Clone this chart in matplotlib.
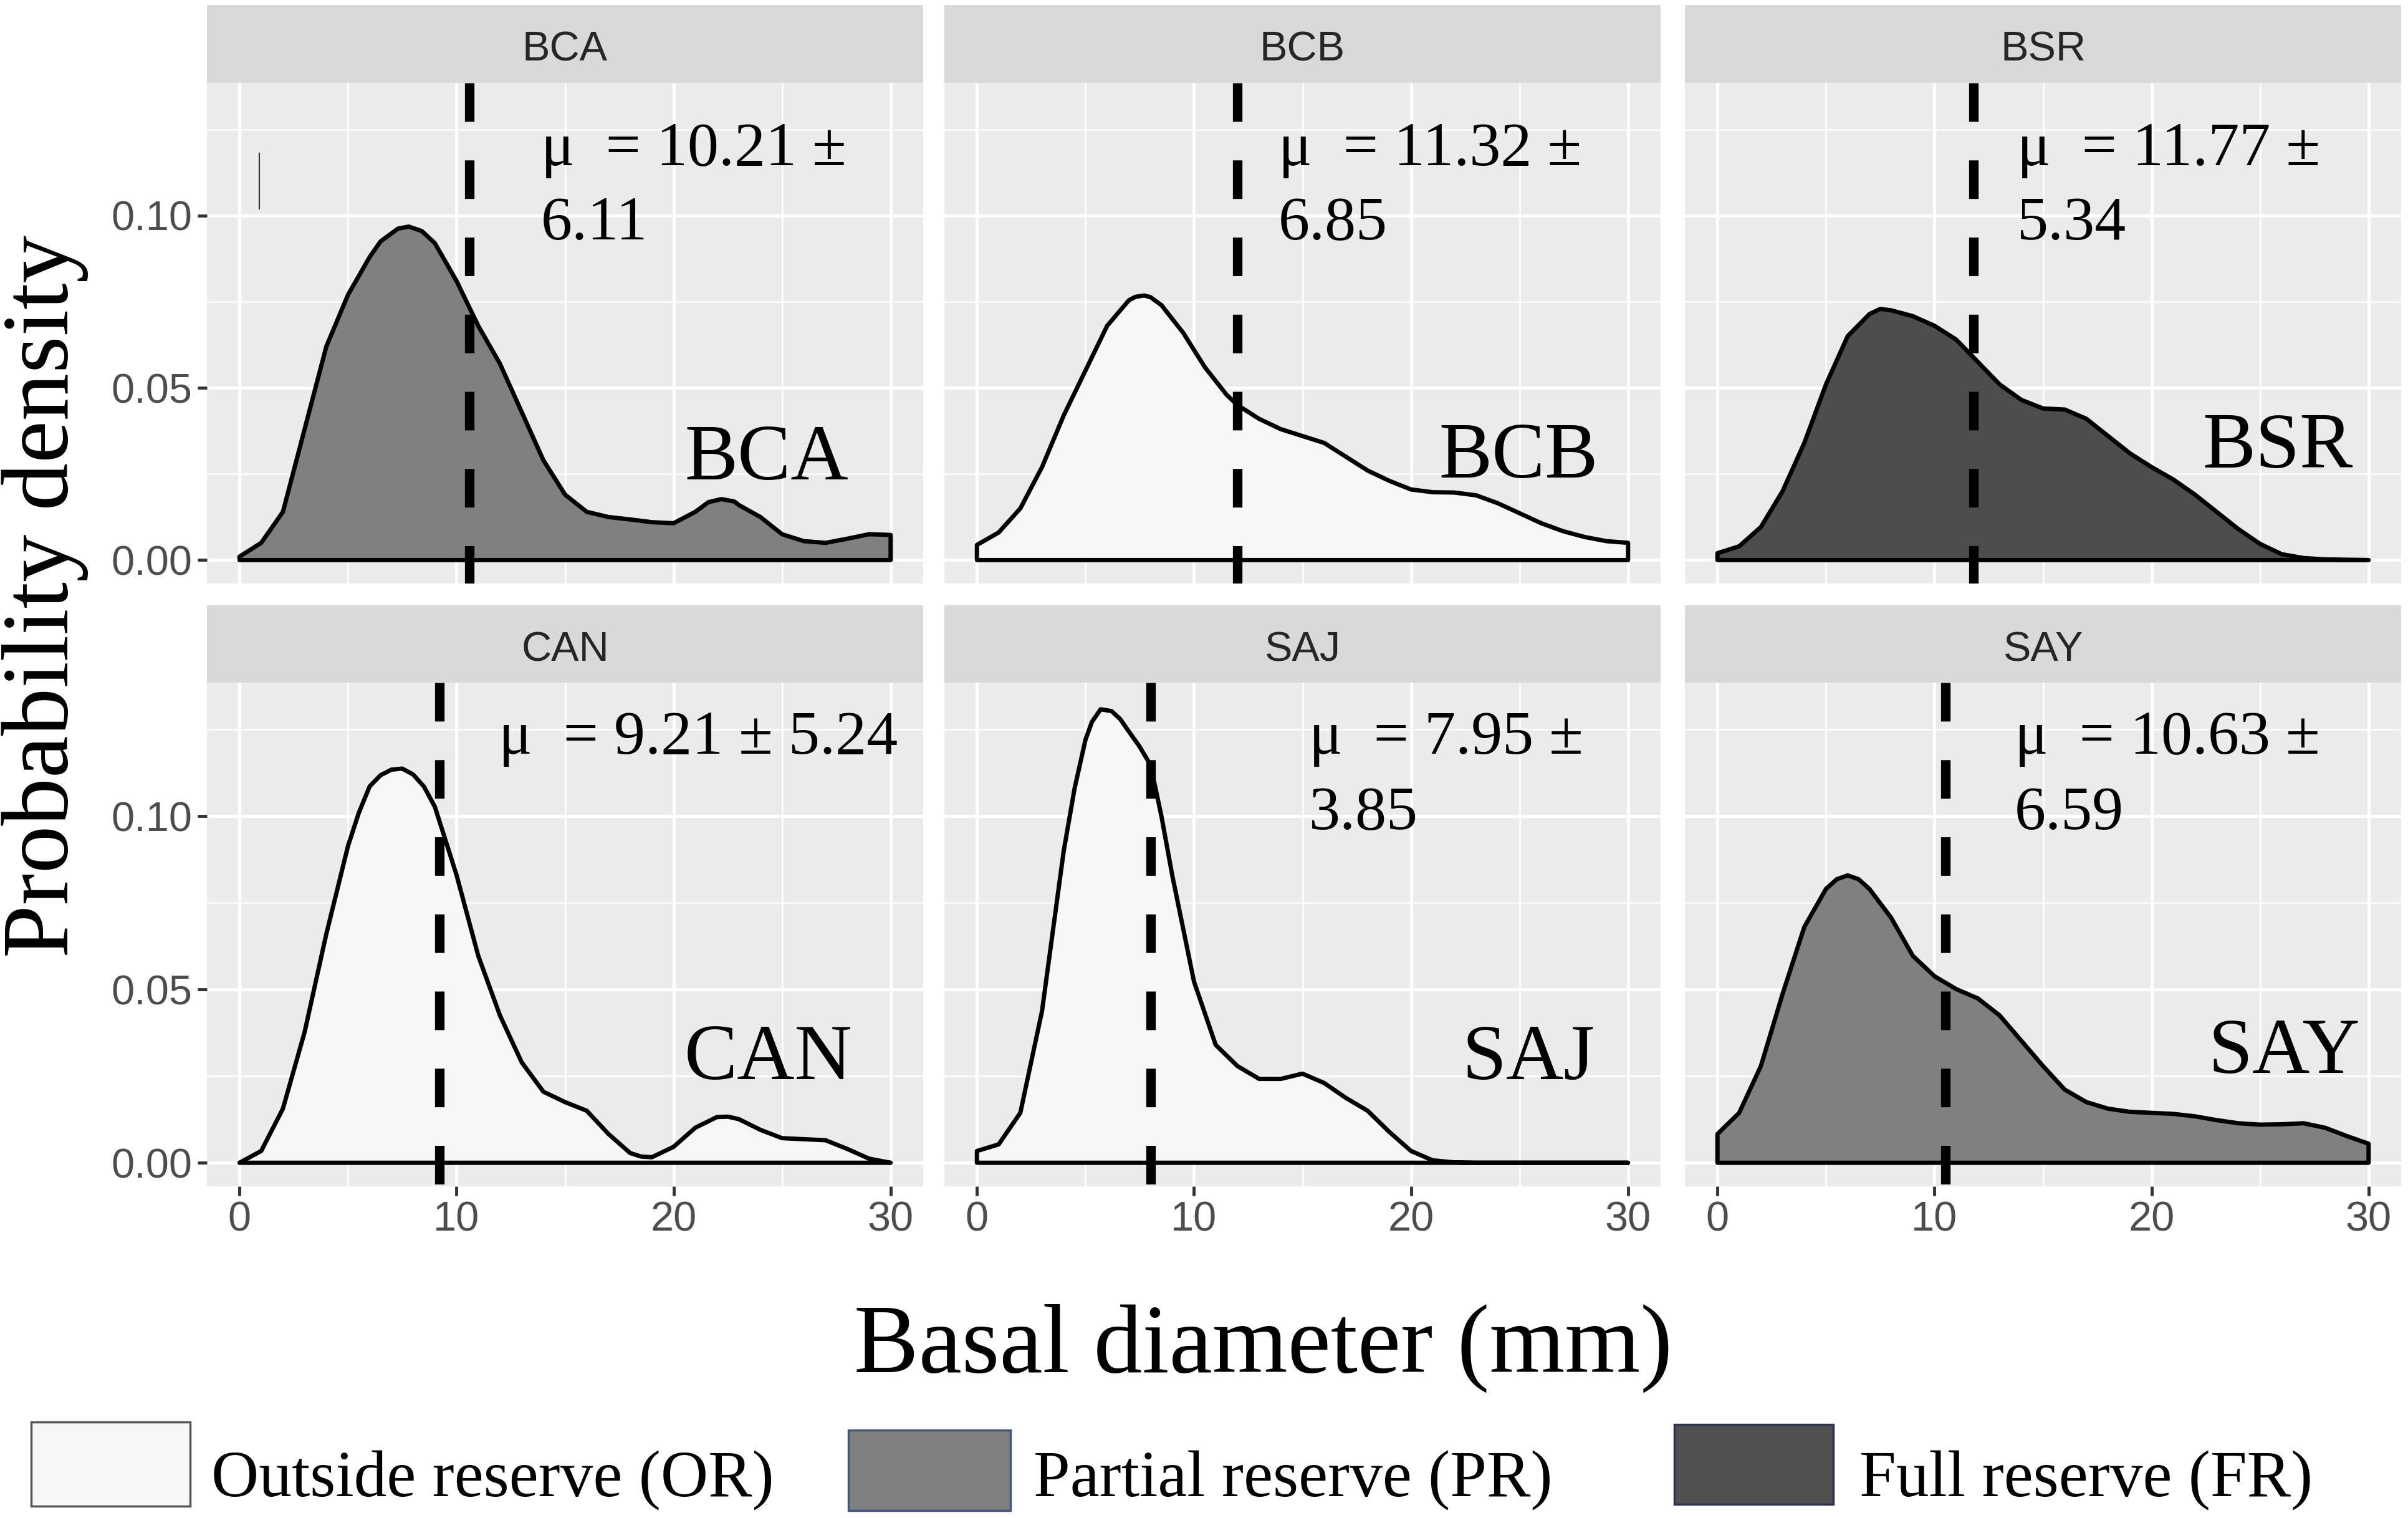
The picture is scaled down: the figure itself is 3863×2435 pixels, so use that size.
import matplotlib
matplotlib.use('Agg')
import matplotlib.pyplot as plt
from matplotlib.patches import Rectangle

# site names and reserve type of each facet
sites = ['BCA', 'BCB', 'BSR', 'CAN', 'SAJ', 'SAY']
reserve = ['PR', 'OR', 'FR', 'OR', 'OR', 'PR']

# density curves (basal diameter in mm, density)
bca_x = [0, 1, 2, 3, 4, 5, 6, 6.5, 7.3, 7.8, 8.4, 9, 10, 11, 12, 13, 14, 15, 16, 17, 18, 19, 20, 21, 21.6, 22.2,
         22.8, 23, 24, 25, 26, 27, 28, 29, 30]
bca_y = [0.001, 0.005, 0.014, 0.038, 0.062, 0.077, 0.088, 0.0925, 0.0962, 0.0968, 0.0955, 0.092, 0.081, 0.068,
         0.057, 0.043, 0.029, 0.019, 0.014, 0.0125, 0.0118, 0.011, 0.0107, 0.014, 0.0168, 0.0177, 0.0170, 0.016,
         0.0125, 0.0075, 0.0055, 0.005, 0.0062, 0.0075, 0.0073]

bcb_x = [0, 1, 2, 3, 4, 5, 6, 7, 7.3, 7.7, 8, 8.5, 9.5, 10.5, 11.5, 12, 13, 14, 15, 16, 17, 18, 19, 20, 21, 22, 23,
         24, 25, 26, 27, 28, 29, 30]
bcb_y = [0.0044, 0.008, 0.015, 0.027, 0.042, 0.055, 0.068, 0.0754, 0.0764, 0.0768, 0.0763, 0.074, 0.066, 0.056,
         0.048, 0.045, 0.041, 0.038, 0.036, 0.034, 0.030, 0.026, 0.023, 0.0205, 0.0197, 0.0196, 0.0188, 0.0165,
         0.0136, 0.0107, 0.0084, 0.0067, 0.0055, 0.005]

bsr_x = [0, 1, 2, 3, 4, 5, 6, 7, 7.5, 8, 9, 10, 11, 12, 13, 14, 15, 16, 17, 18, 19, 20, 21, 22, 23, 24, 25, 26, 27,
         28, 29, 30]
bsr_y = [0.002, 0.004, 0.0096, 0.020, 0.034, 0.051, 0.065, 0.0714, 0.0729, 0.0725, 0.0708, 0.068, 0.064, 0.0575,
         0.051, 0.0465, 0.044, 0.0437, 0.041, 0.036, 0.031, 0.027, 0.0234, 0.019, 0.014, 0.009, 0.0047, 0.0017,
         0.0006, 0.0002, 0.0001, 0.0]

can_x = [0, 1, 2, 3, 4, 5, 5.5, 6, 6.5, 7, 7.5, 8, 8.5, 9, 10, 11, 12, 13, 14, 15, 16, 17, 18, 18.5, 19, 20, 21, 22,
         22.5, 23, 24, 25, 26, 27, 28, 29, 30]
can_y = [0.0, 0.0034, 0.0156, 0.0377, 0.066, 0.0914, 0.1010, 0.1086, 0.1118, 0.1134, 0.1137, 0.112, 0.1085, 0.1027,
         0.083, 0.0597, 0.0425, 0.029, 0.0205, 0.0175, 0.015, 0.0083, 0.0028, 0.0018, 0.0016, 0.0046, 0.0101,
         0.0132, 0.0133, 0.0126, 0.0095, 0.0071, 0.0068, 0.0065, 0.004, 0.0012, 0.0]

saj_x = [0, 1, 2, 3, 4, 4.5, 5, 5.3, 5.7, 6.2, 6.6, 7, 7.5, 8, 8.5, 9, 10, 11, 12, 13, 14, 15, 16, 17, 18, 19, 20,
         21, 22, 23, 24, 25, 26, 27, 28, 29, 30]
saj_y = [0.0034, 0.0053, 0.0144, 0.0438, 0.090, 0.108, 0.122, 0.1272, 0.1308, 0.1303, 0.128, 0.1244, 0.120, 0.1147,
         0.1000, 0.0829, 0.0523, 0.034, 0.0279, 0.0242, 0.0242, 0.0257, 0.023, 0.0187, 0.015, 0.0089, 0.0034,
         0.0007, 0.0001, 0, 0, 0, 0, 0, 0, 0, 0]

say_x = [0, 1, 2, 3, 4, 5, 5.5, 6, 6.5, 7, 8, 9, 10, 11, 12, 13, 14, 15, 16, 17, 18, 19, 20, 21, 22, 23, 24, 25, 26,
         27, 28, 29, 30]
say_y = [0.0083, 0.0144, 0.0279, 0.0487, 0.068, 0.079, 0.0818, 0.0829, 0.0818, 0.079, 0.0707, 0.0597, 0.0538, 0.0501,
         0.0474, 0.0425, 0.0352, 0.0279, 0.0211, 0.0175, 0.0156, 0.0147, 0.0144, 0.0141, 0.0134, 0.0123, 0.0114,
         0.011, 0.0111, 0.0114, 0.0101, 0.0077, 0.0055]

curves_x = [bca_x, bcb_x, bsr_x, can_x, saj_x, say_x]
curves_y = [bca_y, bcb_y, bsr_y, can_y, saj_y, say_y]

# position of the dashed mean line as drawn
mean_line = [10.6, 12.0, 11.8, 9.2, 8.0, 10.5]
mean_text = [['μ  = 10.21 ±', '6.11'], ['μ  = 11.32 ±', '6.85'], ['μ  = 11.77 ±', '5.34'],
             ['μ  = 9.21 ± 5.24'], ['μ  = 7.95 ±', '3.85'], ['μ  = 10.63 ±', '6.59']]

legend_labels = ['Outside reserve (OR)', 'Partial reserve (PR)', 'Full reserve (FR)']
fill_colors = {'OR': '#F8F7F7', 'PR': '#808080', 'FR': '#4D4D4D'}

W, H = 3863, 2435
fig = plt.figure(figsize=(W / 100, H / 100), dpi=100)
fig.patch.set_facecolor('white')


def fx(px):
    return px / W


def fy(px):
    return 1 - px / H


col_left = [332, 1515, 2703]
panel_w = 1149
row_top = [133, 1095]
row_bot = [936, 1903]
strip_top = [8, 971]

# text placement per panel (data coords)
mu_pos = [(13.9, 0.1146, 0.0931), (13.9, 0.1146, 0.0931), (13.8, 0.1146, 0.0931),
          (11.95, 0.118, 0.096), (15.3, 0.118, 0.0962), (13.7, 0.118, 0.0962)]
name_pos = [(20.5, 0.0234), (21.3, 0.024), (22.35, 0.0269), (20.5, 0.0242), (22.35, 0.0242), (22.6, 0.026)]

serif = 'Liberation Serif'
sans = 'Liberation Sans'

for i, site in enumerate(sites):
    r, c = i // 3, i % 3
    ax = fig.add_axes([fx(col_left[c]), fy(row_bot[r]), panel_w / W, (row_bot[r] - row_top[r]) / H])
    ax.set_facecolor('#EBEBEB')
    ax.set_xlim(-1.5, 31.5)
    ax.set_ylim(-0.0068, 0.1385)
    ax.set_xticks([0, 10, 20, 30])
    ax.set_xticks([5, 15, 25], minor=True)
    ax.set_yticks([0, 0.05, 0.10])
    ax.set_yticks([0.025, 0.075, 0.125], minor=True)
    ax.set_yticklabels(['0.00', '0.05', '0.10'])
    ax.grid(which='major', color='white', lw=3.6)
    ax.grid(which='minor', color='white', lw=1.8)
    ax.set_axisbelow(True)
    for s in ax.spines.values():
        s.set_visible(False)
    ax.tick_params(which='minor', length=0)
    ax.tick_params(which='major', length=11, width=3.5, color='#333333', labelsize=48,
                   labelcolor='#4D4D4D', pad=6)
    for lab in ax.get_xticklabels() + ax.get_yticklabels():
        lab.set_fontfamily(sans)
    if r == 0:
        ax.tick_params(axis='x', bottom=False, labelbottom=False)
    if c != 0:
        ax.tick_params(axis='y', left=False, labelleft=False)

    xs = [curves_x[i][0]] + curves_x[i] + [curves_x[i][-1]]
    ys = [0] + curves_y[i] + [0]
    ax.fill(xs, ys, facecolor=fill_colors[reserve[i]], edgecolor='black', lw=5, joinstyle='round', zorder=2)

    ax.plot([mean_line[i], mean_line[i]], [1, 0], transform=ax.get_xaxis_transform(),
            color='black', lw=11, dashes=(4.05, 4.05), solid_capstyle='butt', zorder=3)

    mx, my1, my2 = mu_pos[i]
    ax.text(mx, my1, mean_text[i][0], fontsize=72, family=serif, ha='left', va='baseline', zorder=4)
    if len(mean_text[i]) > 1:
        ax.text(mx, my2, mean_text[i][1], fontsize=72, family=serif, ha='left', va='baseline', zorder=4)

    nx, ny = name_pos[i]
    ax.text(nx, ny, site, fontsize=92, family=serif, ha='left', va='baseline', zorder=4)

    if site == 'BCA':
        # stray mark present in the original figure
        ax.plot([0.9, 0.9], [0.102, 0.118], color='#333333', lw=1.5)

    sax = fig.add_axes([fx(col_left[c]), fy(row_top[r]), panel_w / W, (row_top[r] - strip_top[r]) / H])
    sax.set_facecolor('#D9D9D9')
    sax.set_xticks([])
    sax.set_yticks([])
    for s in sax.spines.values():
        s.set_visible(False)
    sax.text(0.5, 0.28, site, transform=sax.transAxes, ha='center', va='baseline', fontsize=48,
             color='#262626', family=sans)

# axis titles
fig.text(fx(2027), fy(2201), 'Basal diameter (mm)', ha='center', va='baseline', fontsize=112, family=serif)
fig.text(fx(72), fy(956), 'Probability density', rotation=90, ha='center', va='center', fontsize=110,
         family=serif)

# legend drawn as boxes and labels along the bottom
box_px = [(50, 2281, 305, 2416), (1361, 2294, 1621, 2423), (2686, 2285, 2941, 2413)]
box_edge = ['#555555', '#44557A', '#2B3550']
text_left = [339, 1658, 2983]
for k, key in enumerate(['OR', 'PR', 'FR']):
    x0, y0, x1, y1 = box_px[k]
    fig.add_artist(Rectangle((fx(x0), fy(y1)), (x1 - x0) / W, (y1 - y0) / H, transform=fig.transFigure,
                             facecolor=fill_colors[key] if key != 'FR' else '#505050',
                             edgecolor=box_edge[k], lw=2.5))
    fig.text(fx(text_left[k]), fy(2400), legend_labels[k], ha='left', va='baseline', fontsize=76, family=serif)

fig.savefig('out.png', dpi=100)
